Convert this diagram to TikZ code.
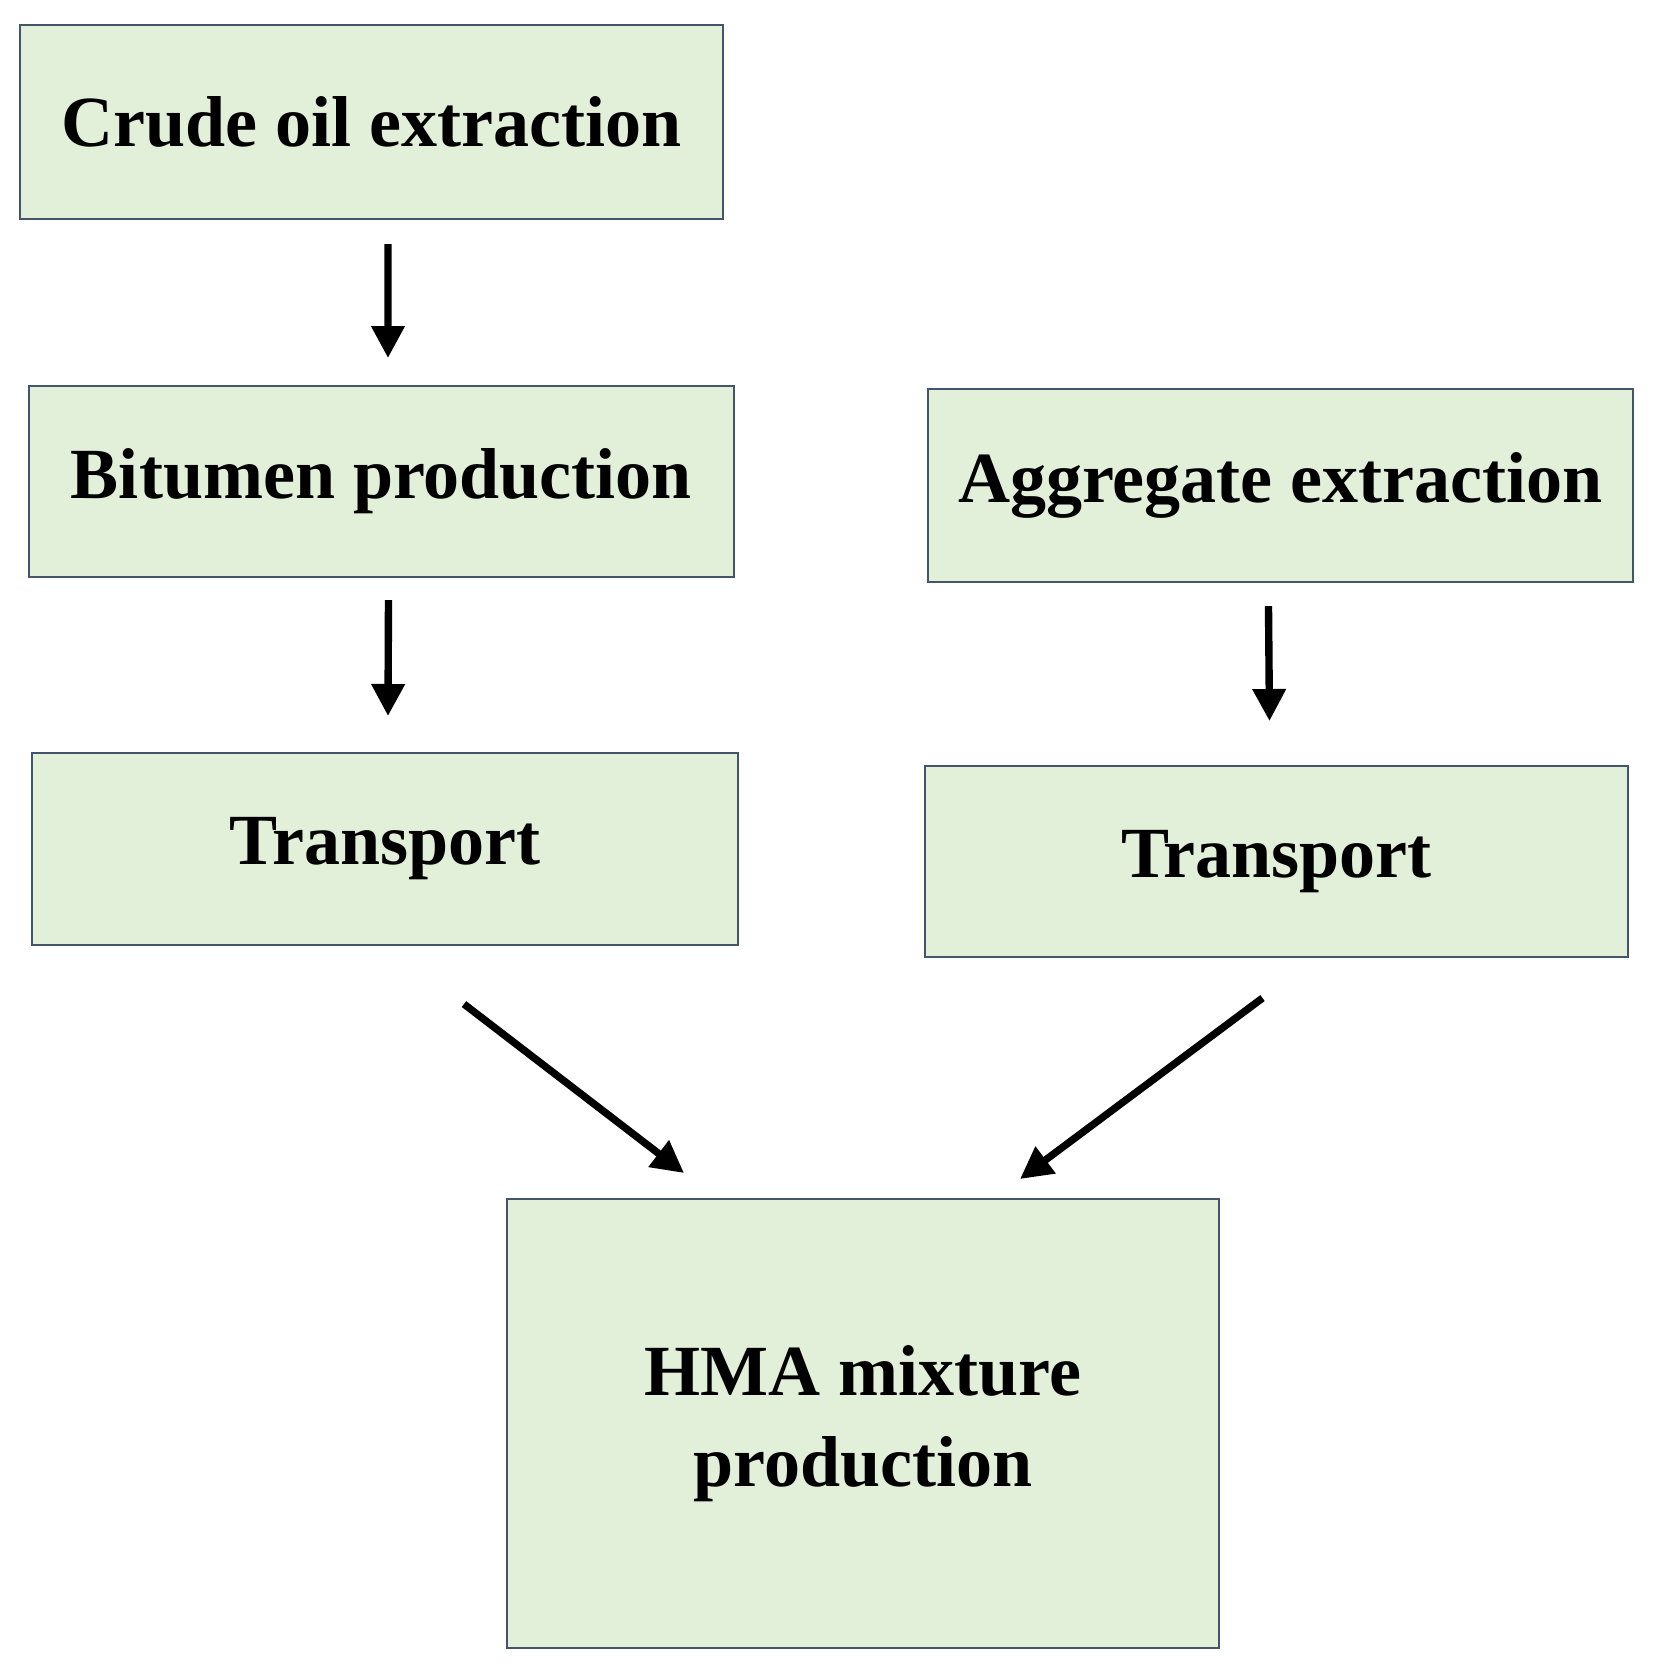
\documentclass[tikz,border=0pt]{standalone}
\usepackage{fontspec}
\setmainfont{Liberation Serif}
\usetikzlibrary{arrows.meta,calc}
\definecolor{boxfill}{HTML}{E2EFD9}
\definecolor{boxline}{HTML}{44546A}
\begin{document}
\begin{tikzpicture}[x=0.02cm,y=-0.02cm,
    stage/.style={draw=boxline,fill=boxfill,line width=1.2pt,inner sep=0pt,anchor=north west,
      font=\fontsize{41}{46}\selectfont\bfseries,align=center},
    flow/.style={line width=4.2pt,-{Triangle[length=0.64cm,width=0.64cm]}}]
  \useasboundingbox (0,0) rectangle (1653,1672);

  % left chain
  \node[stage,minimum width=14.06cm,minimum height=3.88cm] (crude) at (19,24) {Crude oil extraction};
  \node[stage,minimum width=14.1cm,minimum height=3.82cm] (bit) at (28,385) {Bitumen production};
  \node[stage,minimum width=14.12cm,minimum height=3.84cm] (tL) at (31,752) {Transport};

  % right chain
  \node[stage,minimum width=14.1cm,minimum height=3.86cm] (agg) at (927,388) {Aggregate extraction};
  \node[stage,minimum width=14.06cm,minimum height=3.82cm] (tR) at (924,765) {Transport};

  % mixing plant
  \node[stage,minimum width=14.24cm,minimum height=8.98cm] (hma) at (506,1198)
    {HMA mixture\\[6pt]production};

  \coordinate (inL) at ($(hma.north west)+(178,-25)$);
  \coordinate (inR) at ($(hma.north west)+(514,-19)$);
  \coordinate (outL) at ($(tL.south)+(79,58)$);
  \coordinate (outR) at ($(tR.south)+(-14,40)$);

  \draw[flow,shorten <=0.48cm,shorten >=0.54cm] ([xshift=0.33cm]crude.south) -- ([xshift=0.13cm]bit.north);
  \draw[flow] ($(bit.south)+(7,22)$) -- ($(tL.north)+(3,-36)$);
  \draw[flow] ($(agg.south)+(-12,23)$) -- ($(tR.north)+(-7,-44)$);
  \draw[flow] (outL) -- (inL);
  \draw[flow] (outR) -- (inR);
\end{tikzpicture}
\end{document}
